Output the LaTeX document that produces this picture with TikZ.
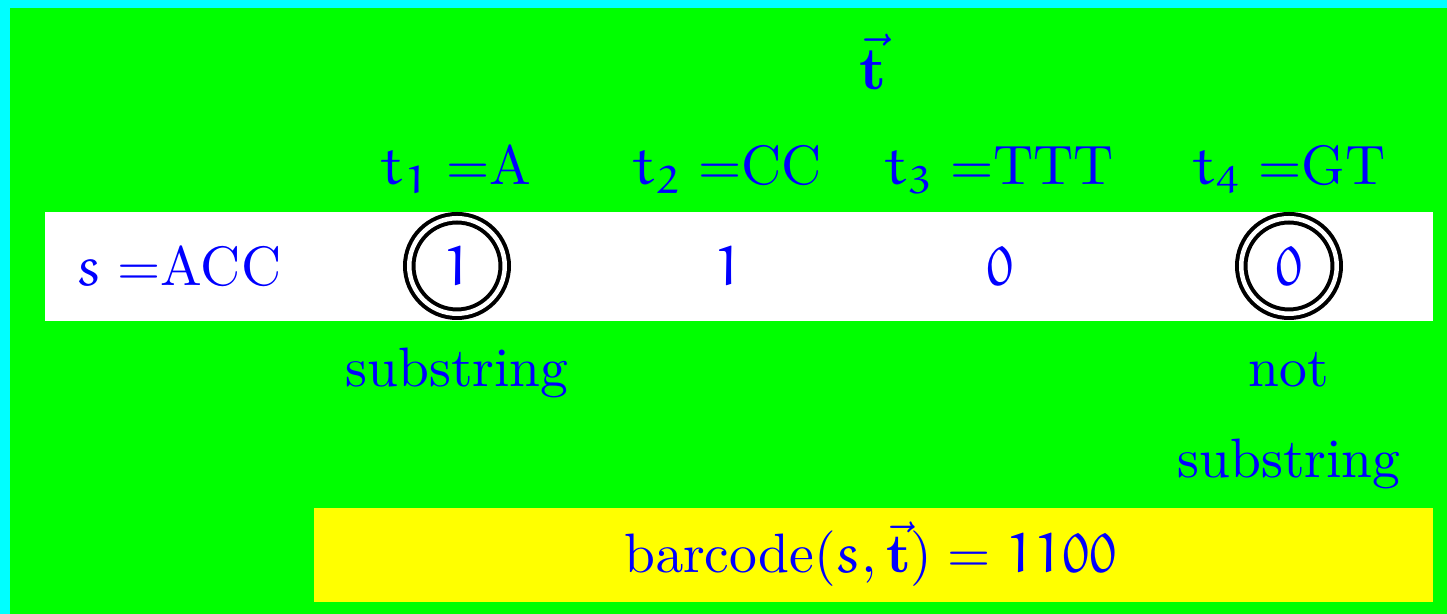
\documentclass[tikz,border=0pt]{standalone}
\IfFileExists{ueur.fd}{\DeclareMathAlphabet{\mathEu}{U}{eur}{m}{n}}{\DeclareMathAlphabet{\mathEu}{OML}{cmm}{m}{it}}
\definecolor{bgcyan}{RGB}{0,255,255}
\definecolor{bggreen}{RGB}{0,255,0}
\definecolor{bgyellow}{RGB}{255,255,0}
\begin{document}
\begin{tikzpicture}[x=0.18pt,y=-0.18pt,
  txt/.style={text=blue, inner sep=0pt, anchor=base},
  digit/.style={text=blue, inner sep=0pt, circle, minimum size=95.5*0.18pt},
  ringed/.style={digit, draw=black, line width=4*0.18pt, double=white, double distance=4.5*0.18pt}]
\fill[bgcyan] (0,0) rectangle (1447,614);
\fill[bggreen] (10,8) rectangle (1447,614);
\fill[white] (45,212) rectangle (1433,321);
\fill[bgyellow] (314,508) rectangle (1433,602);
\useasboundingbox (0,0) rectangle (1447,614);
\node[txt, font=\fontsize{11}{13}\selectfont] (title) at (873,90) {$\vec{\mathbf{t}}$};
\node[txt] (t1) at (456,185) {$\mathEu{t}_{\mathEu{1}} =$A};
\node[txt] (t2) at (727,185) {$\mathEu{t}_{\mathEu{2}} =$CC};
\node[txt] (t3) at (999,185) {$\mathEu{t}_{\mathEu{3}} =$TTT};
\node[txt] (t4) at (1289,185) {$\mathEu{t}_{\mathEu{4}} =$GT};
\node[txt] (s) at (179,286) {$\mathEu{s} =$ACC};
\node[ringed] (d1) at (457,266) {$\mathEu{1}$};
\node[digit] (d2) at (728,266) {$\mathEu{1}$};
\node[digit] (d3) at (1000,266) {$\mathEu{0}$};
\node[ringed] (d4) at (1289,266) {$\mathEu{0}$};
\node[txt] (sub1) at (457,387) {substring};
\node[txt] (not) at (1289,387) {not};
\node[txt] (sub4) at (1289,478) {substring};
\node[txt] (bar) at (871,573) {$\mathrm{barcode}(\mathEu{s},\vec{\mathbf{t}}) = \mathEu{1100}$};
\end{tikzpicture}
\end{document}
